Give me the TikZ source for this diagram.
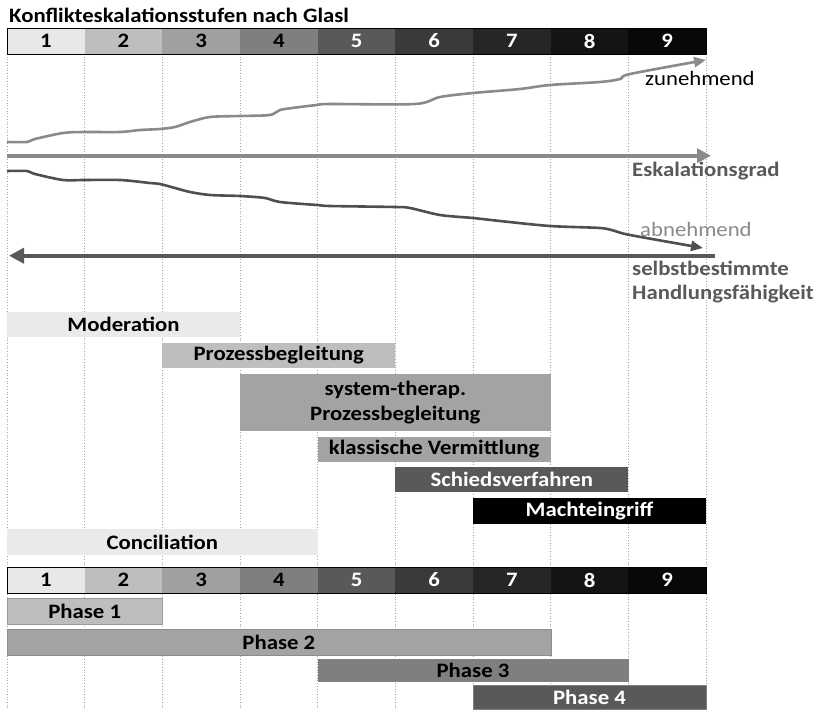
\documentclass[tikz,border=0pt]{standalone}
\usepackage{fontspec}
\setmainfont{Carlito}[FakeStretch=1.11]
\usetikzlibrary{arrows.meta}

% grey levels of the nine escalation stages
\definecolor{s1}{HTML}{E8E8E8}
\definecolor{s2}{HTML}{BEBEBE}
\definecolor{s3}{HTML}{A0A0A0}
\definecolor{s4}{HTML}{7F7F7F}
\definecolor{s5}{HTML}{595959}
\definecolor{s6}{HTML}{3A3A3A}
\definecolor{s7}{HTML}{262626}
\definecolor{s8}{HTML}{141414}
\definecolor{s9}{HTML}{080808}
\definecolor{lightbar}{HTML}{EAEAEA}
\definecolor{midbar}{HTML}{A3A3A3}
\definecolor{riseline}{HTML}{8A8A8A}
\definecolor{fallline}{HTML}{4F4F4F}
\definecolor{labelgrey}{HTML}{595959}

\newcommand{\lblfont}{\fontsize{20.5}{25}\selectfont}

\begin{document}
\begin{tikzpicture}[x=1pt,y=-1pt,
  lbl/.style={font=\lblfont\bfseries},
  cell/.style={lbl, anchor=north west, inner sep=0pt, outer sep=0pt,
    minimum width=77.67pt, minimum height=26pt},
  bar/.style={lbl, anchor=north west, inner sep=0pt, outer sep=0pt, align=center},
  grid/.style={gray!70, dotted, line width=0.7pt},
  side/.style={anchor=base west, inner sep=0pt, font=\lblfont},
  sidebold/.style={side, font=\lblfont\bfseries, text=labelgrey},
]
\useasboundingbox (0,0) rectangle (821,709);

% column separators
\foreach \i in {0,...,9}
  \draw[grid] ({7+77.67*\i},54) -- ({7+77.67*\i},709);

\node[lbl, anchor=base west, inner sep=0pt] (title) at (9,23) {Konflikteskalationsstufen nach Glasl};

% stage headers, top and bottom
\foreach \i in {1,...,9}{
  \ifnum\i<5 \def\tc{black}\else\def\tc{white}\fi
  \node[cell, fill=s\i, text=\tc] (t\i) at ({7+77.67*(\i-1)},28) {\i};
  \node[cell, fill=s\i, text=\tc] (b\i) at ({7+77.67*(\i-1)},567) {\i};
}
\draw[black, line width=0.8pt] (t1.north west) rectangle (t9.south east);
\draw[black, line width=0.8pt] (b1.north west) rectangle (b9.south east);

% rising curve
\draw[riseline, line width=2.6pt, -{Triangle[length=12pt,width=10pt]}]
  plot[smooth, tension=0.5] coordinates {(7,142) (27,142) (35,139) (63,133) (84,132) (120,132)
  (140,130) (160,129) (175,127) (190,122) (210,117) (240,116) (270,115) (280,110)
  (300,107) (317,105) (330,104) (415,104) (440,97) (473,93) (520,89) (550,85)
  (600,82) (620,79) (630,74) (706,60)};
\node[side] (zun) at (645,85) {zunehmend};

% escalation axis
\coordinate (e0) at (7,155.7);
\coordinate (e1) at (711,155.7);
\draw[riseline, line width=4.4pt, -{Triangle[length=14pt,width=14pt]}] (e0) -- (e1);
\node[sidebold] (esk) at (632,176) {Eskalationsgrad};

% falling curve
\draw[fallline, line width=2.6pt, -{Triangle[length=12pt,width=10pt]}]
  plot[smooth, tension=0.5] coordinates {(7,171) (27,171) (35,174) (63,180) (84,180) (120,180)
  (150,183) (160,184) (175,188) (190,192) (210,195) (240,196) (265,198) (280,202)
  (317,205) (330,206) (395,207) (410,208) (440,215) (473,218) (500,221) (550,226)
  (600,228) (615,231) (630,235) (703,248)};
\node[side, text=riseline] (abn) at (640,236.7) {abnehmend};

% self-determination axis
\coordinate (h0) at (715,255.7);
\coordinate (h1) at (9,255.7);
\draw[labelgrey, line width=4.4pt, -{Triangle[length=15pt,width=15pt]}] (h0) -- (h1);
\node[sidebold] (sel) at (632,275) {selbstbestimmte};
\node[sidebold] (hand) at (632,299) {Handlungsfähigkeit};

% intervention methods
\node[bar, fill=lightbar, minimum width=233pt, minimum height=25pt] (mod) at (7,312) {Moderation};
\node[bar, fill=s2, minimum width=233pt, minimum height=25pt] (pb) at (162.3,343) {Prozessbegleitung};
\node[bar, fill=midbar, minimum width=310.7pt, minimum height=57pt] (stp) at (240,374) {system-therap.\\Prozessbegleitung};
\node[bar, fill=midbar, minimum width=233pt, minimum height=25pt] (kv) at (317.7,437) {klassische Vermittlung};
\node[bar, fill=s5, text=white, minimum width=233pt, minimum height=25pt] (sv) at (395.3,467) {Schiedsverfahren};
\node[bar, fill=black, text=white, minimum width=233pt, minimum height=26pt] (me) at (473,498) {Machteingriff};
\node[bar, fill=lightbar, minimum width=310.7pt, minimum height=26pt] (con) at (7,529) {Conciliation};

% phases
\node[bar, fill=s2, draw=gray!80, minimum width=155.3pt, minimum height=26pt] (p1) at (7,598) {Phase 1};
\node[bar, fill=midbar, draw=gray!90, minimum width=543.7pt, minimum height=26pt] (p2) at (7,629) {Phase 2};
\node[bar, fill=s4, draw=gray, minimum width=310.6pt, minimum height=22pt] (p3) at (317.7,659) {Phase 3};
\node[bar, fill=s5, text=white, draw=s4, minimum width=233pt, minimum height=24pt] (p4) at (473,685) {Phase 4};
\end{tikzpicture}
\end{document}
